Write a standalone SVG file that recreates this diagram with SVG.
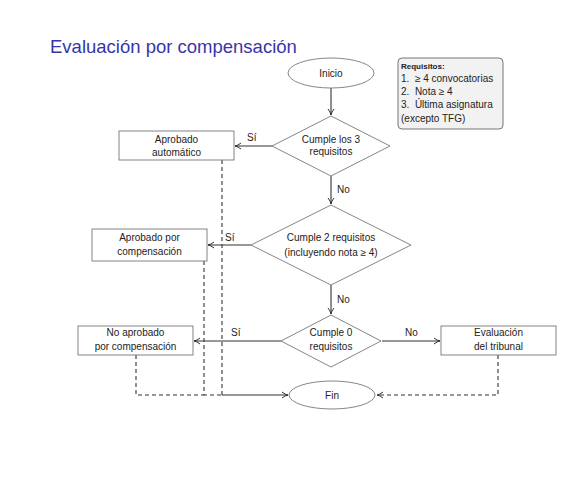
<svg xmlns="http://www.w3.org/2000/svg" width="586" height="491" viewBox="0 0 586 491">
<style>
  text { font-family: "Liberation Sans", "DejaVu Sans", sans-serif; fill: #222; }
  .t { font-size: 10px; text-anchor: middle; }
  .lbl { font-size: 10px; }
  .title { font-size: 18.5px; fill: #3636a8; }
  .shape { fill: #fff; stroke: #777; stroke-width: 0.9; }
  .req { fill: #f2f2f2; stroke: #666; stroke-width: 0.9; }
  .c { fill: none; stroke: #333; stroke-width: 1.1; }
  .d { fill: none; stroke: #333; stroke-width: 1.1; stroke-dasharray: 4 3; }
  .rt { font-size: 10px; }
</style>
<defs>
  <marker id="arr" viewBox="0 0 8 8" refX="7" refY="4" markerWidth="8" markerHeight="8" markerUnits="userSpaceOnUse" orient="auto">
    <path d="M1,1 Q4,3.5 7,4 Q4,4.5 1,7" fill="none" stroke="#333" stroke-width="1"/>
  </marker>
</defs>
<rect width="586" height="491" fill="#fff"/>
<text class="title" x="50" y="53">Evaluación por compensación</text>

<g id="connectors">
  <path class="c" d="M331,88 L331,115" marker-end="url(#arr)"/>
  <path class="c" d="M272,146 L235,146" marker-end="url(#arr)"/>
  <path class="c" d="M331,176 L331,204" marker-end="url(#arr)"/>
  <path class="c" d="M251,245 L208,245" marker-end="url(#arr)"/>
  <path class="c" d="M331,285 L331,314" marker-end="url(#arr)"/>
  <path class="c" d="M281,341 L194,341" marker-end="url(#arr)"/>
  <path class="c" d="M382,341 L440,341" marker-end="url(#arr)"/>
  <path class="d" d="M136,355 L136,395 L204,395"/>
  <path class="d" d="M204,261 L204,395 L222,395"/>
  <path class="d" d="M222,160 L222,395"/>
  <path class="c" d="M222,395 L288,395" marker-end="url(#arr)"/>
  <path class="d" d="M498,355 L498,395 L377,395" marker-end="url(#arr)"/>
  <text class="lbl" x="247" y="141">Sí</text>
  <text class="lbl" x="337" y="193">No</text>
  <text class="lbl" x="225" y="241">Sí</text>
  <text class="lbl" x="337" y="303">No</text>
  <text class="lbl" x="231" y="336">Sí</text>
  <text class="lbl" x="405" y="336">No</text>
</g>

<g id="inicio">
  <ellipse class="shape" cx="331" cy="73" rx="43" ry="15"/>
  <text class="t" x="331" y="76.5">Inicio</text>
</g>

<g id="requisitos">
  <rect class="req" x="398" y="58" width="105" height="71" rx="4"/>
  <text x="401" y="68.5" style="font-size:8px;font-weight:bold">Requisitos:</text>
  <text class="rt" x="401" y="82">1.&#160;&#160;≥ 4 convocatorias</text>
  <text class="rt" x="401" y="95">2.&#160;&#160;Nota ≥ 4</text>
  <text class="rt" x="401" y="108">3.&#160;&#160;Última asignatura</text>
  <text class="rt" x="401" y="122">(excepto TFG)</text>
</g>

<g id="d1">
  <polygon class="shape" points="331,116 390,146 331,176 272,146"/>
  <text class="t" x="331" y="143">Cumple los 3</text>
  <text class="t" x="331" y="155">requisitos</text>
</g>

<g id="aprobado-auto">
  <rect class="shape" x="119" y="131" width="115" height="29"/>
  <text class="t" x="176.5" y="143">Aprobado</text>
  <text class="t" x="176.5" y="156">automático</text>
</g>

<g id="d2">
  <polygon class="shape" points="331,205 411,245 331,285 251,245"/>
  <text class="t" x="331" y="241">Cumple 2 requisitos</text>
  <text class="t" x="331" y="256">(incluyendo nota ≥ 4)</text>
</g>

<g id="aprobado-comp">
  <rect class="shape" x="92" y="229" width="115" height="32"/>
  <text class="t" x="149.5" y="241">Aprobado por</text>
  <text class="t" x="149.5" y="255">compensación</text>
</g>

<g id="d3">
  <polygon class="shape" points="331,315 381,341 331,367 281,341"/>
  <text class="t" x="331" y="336">Cumple 0</text>
  <text class="t" x="331" y="350">requisitos</text>
</g>

<g id="no-aprobado">
  <rect class="shape" x="78" y="326" width="115" height="29"/>
  <text class="t" x="135.5" y="336">No aprobado</text>
  <text class="t" x="135.5" y="350">por compensación</text>
</g>

<g id="tribunal">
  <rect class="shape" x="441" y="326" width="115" height="29"/>
  <text class="t" x="498.5" y="336">Evaluación</text>
  <text class="t" x="498.5" y="350">del tribunal</text>
</g>

<g id="fin">
  <ellipse class="shape" cx="332" cy="395" rx="43" ry="14"/>
  <text class="t" x="332" y="398.5">Fin</text>
</g>
</svg>
